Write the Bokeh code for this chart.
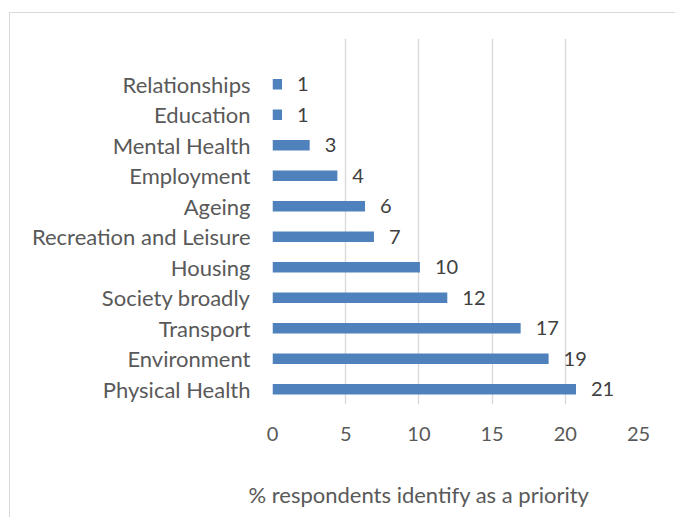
from bokeh.plotting import figure
from bokeh.models import Range1d, FixedTicker, Title, ColumnDataSource
from bokeh.core.properties import value
from bokeh.embed import file_html
from bokeh.resources import INLINE

# Data (bottom to top)
categories = ["Physical Health", "Environment", "Transport", "Society broadly",
              "Housing", "Recreation and Leisure", "Ageing", "Employment",
              "Mental Health", "Education", "Relationships"]
values = [20.73, 18.86, 16.95, 11.94, 10.07, 6.93, 6.32, 4.43, 2.54, 0.65, 0.65]
x_ticks = [0, 5, 10, 15, 20, 25]
x_title = "% respondents identify as a priority"

FONT = "Lato"
pos = list(range(len(categories)))
labels = ["{:.0f}".format(v) for v in values]
src = ColumnDataSource(dict(y=pos, v=values, lab=labels))

p = figure(frame_width=366, frame_height=366, output_backend="svg", toolbar_location=None,
           x_range=Range1d(0, 25), y_range=Range1d(-0.5, len(categories) + 0.5),
           min_border_left=262, min_border_right=37, min_border_top=25,
           min_border_bottom=60)
p.styles = {"margin-left": "9px", "margin-top": "12px",
            "border-left": "1px solid #d9d9d9", "border-top": "1px solid #d9d9d9",
            "max-height": "505px", "overflow": "hidden"}
p.outline_line_color = None
p.background_fill_color = "white"
p.border_fill_color = "white"

p.hbar(y="y", right="v", left=0, height=0.34, source=src,
       fill_color="#4f81bd", line_color=None)
p.text(x="v", y="y", text="lab", source=src, x_offset=15,
       text_baseline="middle", text_align="left",
       text_font=value(FONT), text_font_size="20px", text_color="#404040")

# x axis
p.xaxis.ticker = FixedTicker(ticks=x_ticks)
p.xaxis.axis_line_color = None
p.xaxis.major_tick_line_color = None
p.xaxis.minor_tick_line_color = None
p.xaxis.major_label_standoff = 16
p.xaxis.major_label_text_font = FONT
p.xaxis.major_label_text_font_size = "20px"
p.xaxis.major_label_text_color = "#595959"

# y axis
p.yaxis.ticker = FixedTicker(ticks=pos)
p.yaxis.major_label_overrides = {i: c for i, c in enumerate(categories)}
p.yaxis.axis_line_color = None
p.yaxis.major_tick_line_color = None
p.yaxis.minor_tick_line_color = None
p.yaxis.major_label_standoff = 16
p.yaxis.major_label_text_font = FONT
p.yaxis.major_label_text_font_size = "22px"
p.yaxis.major_label_text_color = "#595959"

p.xgrid.ticker = FixedTicker(ticks=x_ticks)
p.xgrid.grid_line_color = "#d9d9d9"
p.xgrid.grid_line_width = 1.4
p.ygrid.grid_line_color = None

# axis title
p.add_layout(Title(text=x_title, align="left", offset=-24, standoff=70,
                   vertical_align="bottom",
                   text_font=FONT, text_font_size="22px", text_font_style="normal",
                   text_color="#595959"), "below")

open("out.html", "w").write(file_html(p, INLINE))
